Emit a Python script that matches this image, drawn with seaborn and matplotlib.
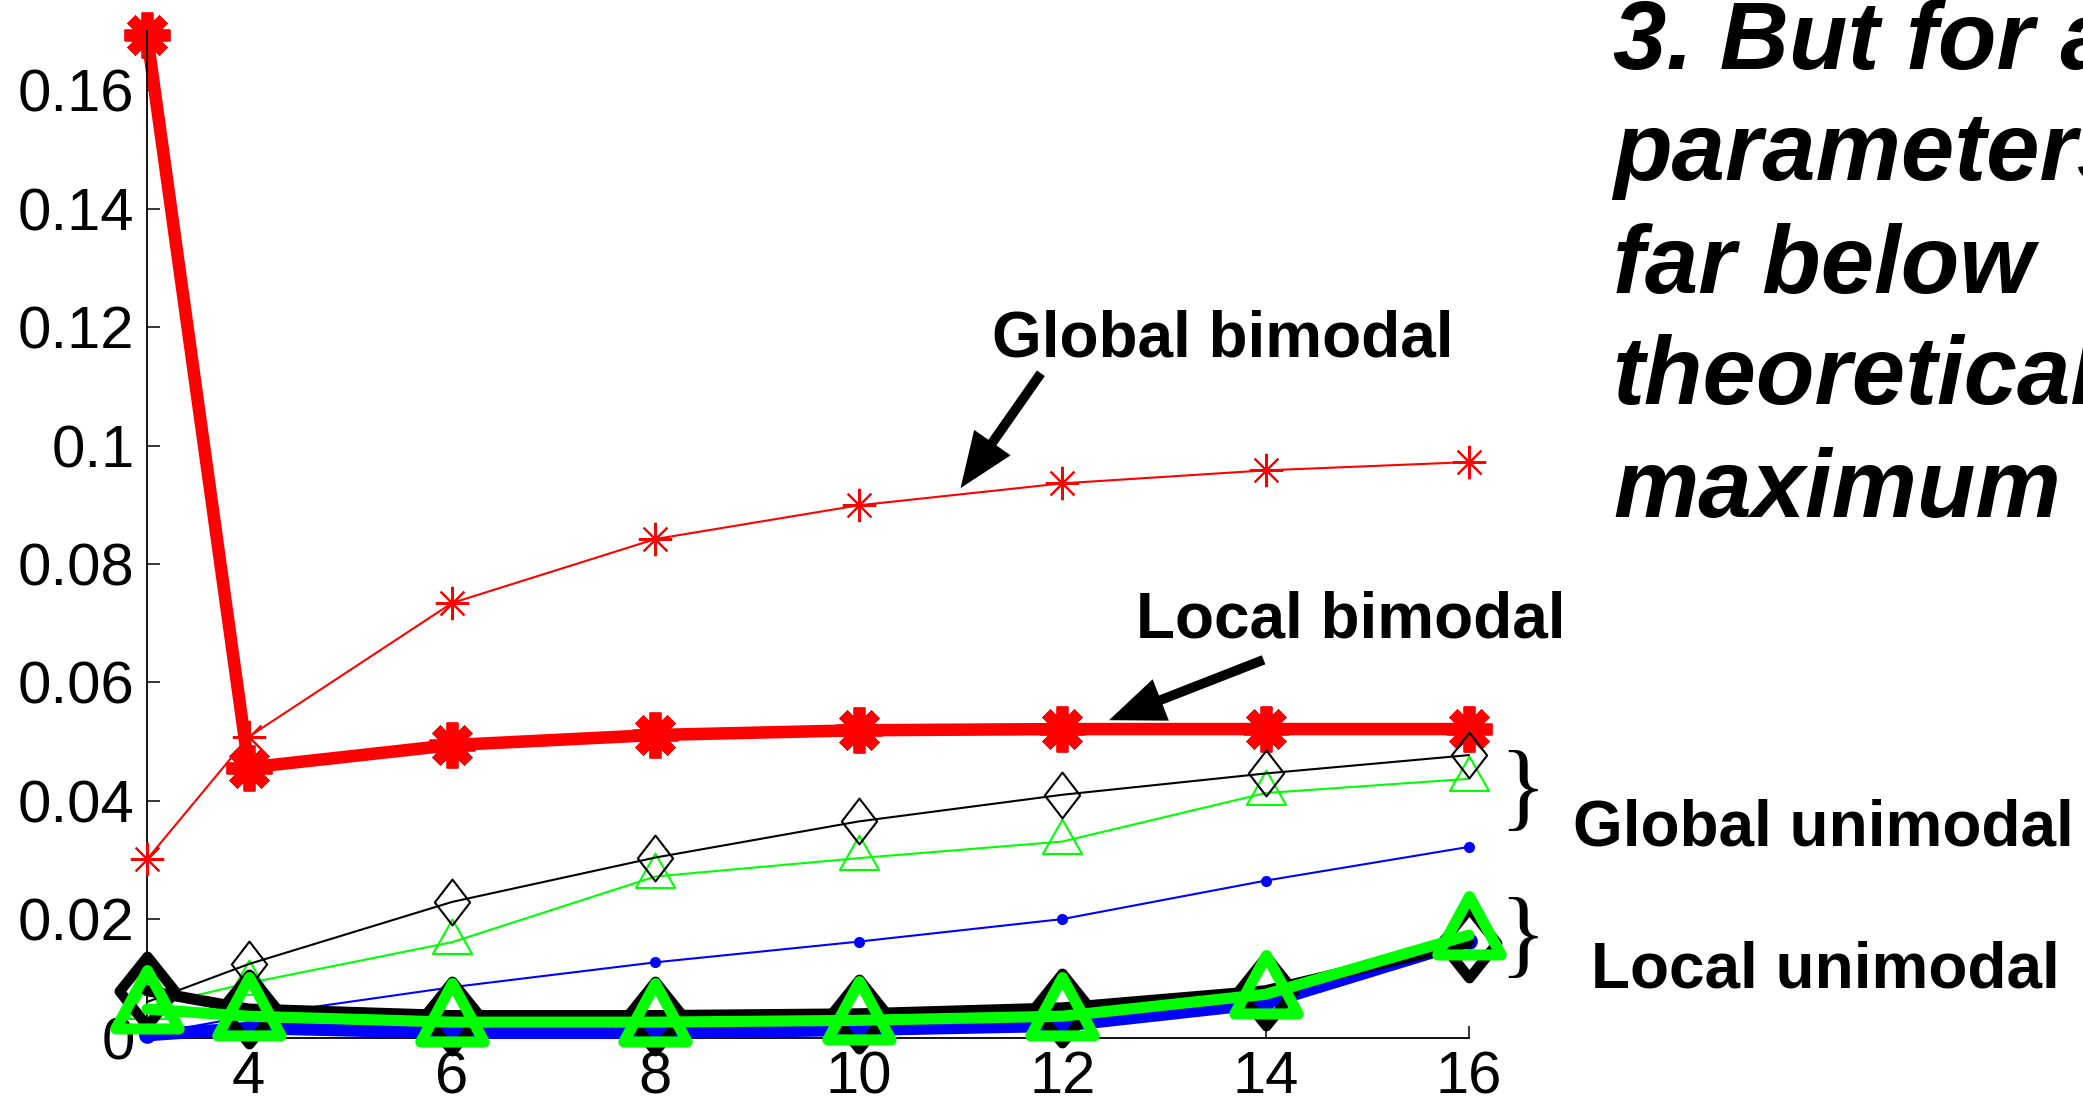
import matplotlib
matplotlib.use("Agg")
import matplotlib.pyplot as plt
from matplotlib.markers import MarkerStyle
from matplotlib.path import Path
import seaborn as sns

# ---- data -----------------------------------------------------------------
x_values = [3, 4, 6, 8, 10, 12, 14, 16]

global_bimodal = [0.0301, 0.0508, 0.0734, 0.0842, 0.0899, 0.0936, 0.0958, 0.0972]
local_bimodal = [0.1693, 0.0456, 0.0494, 0.0511, 0.0519, 0.0521, 0.0521, 0.0521]

global_unimodal_diamond = [0.0060, 0.0124, 0.0229, 0.0304, 0.0365, 0.0410, 0.0446, 0.0477]
global_unimodal_triangle = [0.0052, 0.0092, 0.0161, 0.0272, 0.0303, 0.0331, 0.0413, 0.0437]
global_unimodal_dot = [0.0005, 0.0036, 0.0085, 0.0127, 0.0162, 0.0200, 0.0265, 0.0322]

local_unimodal_diamond = [0.0079, 0.0048, 0.0037, 0.0037, 0.0040, 0.0050, 0.0079, 0.0160]
local_unimodal_triangle = [0.0048, 0.0036, 0.0026, 0.0026, 0.0029, 0.0036, 0.0073, 0.0173]
local_unimodal_dot = [0.0004, 0.0016, 0.0008, 0.0008, 0.0013, 0.0020, 0.0058, 0.0163]

x_ticks = [4, 6, 8, 10, 12, 14, 16]
y_ticks = [0, 0.02, 0.04, 0.06, 0.08, 0.10, 0.12, 0.14, 0.16]
y_tick_labels = ["0", "0.02", "0.04", "0.06", "0.08", "0.1", "0.12", "0.14", "0.16"]

headline = ["3. But for all", "parameters", "far below", "theoretical", "maximum"]

# ---- style ----------------------------------------------------------------
sns.set_style("ticks")
plt.rcParams["font.family"] = ["Liberation Sans", "DejaVu Sans"]

W, H = 2083, 1109
fig = plt.figure(figsize=(W / 100, H / 100), dpi=100)
ax = fig.add_axes([147 / W, 1 - 1037.5 / H, 1322 / W, (1037.5 - 31.1) / H])


def fpos(px, py):
    """Pixel position (from top-left) -> figure fraction."""
    return px / W, 1 - py / H


def diamond(ratio):
    return MarkerStyle(Path([(0, 1), (ratio, 0), (0, -1), (-ratio, 0), (0, 1)], closed=True),
                       joinstyle="miter")


def triangle(w, h):
    # triangle centred on its centroid
    return MarkerStyle(Path([(0, 2 * h / 3), (w / 2, -h / 3), (-w / 2, -h / 3), (0, 2 * h / 3)],
                            closed=True), joinstyle="miter")


asterisk = MarkerStyle((8, 2, 0))

RED, BLACK, GREEN, BLUE = "#ff0000", "#000000", "#00ff00", "#0000ff"


def draw(values, color, lw, marker, ms, mew, z, filled=False):
    sns.lineplot(x=x_values, y=values, ax=ax, color=color, linewidth=lw,
                 marker=marker, markersize=ms, markeredgewidth=mew,
                 markeredgecolor=color,
                 markerfacecolor=color if filled else "none",
                 clip_on=False, zorder=z, legend=False)
    line = ax.lines[-1]
    line.set_markersize(ms)
    line.set_markeredgewidth(mew)


# local bimodal (thick red)
draw(local_bimodal, RED, 9, asterisk, 33, 8.5, 2)

# global series (thin lines)
draw(global_bimodal, RED, 1.5, asterisk, 24, 1.5, 3)
draw(global_unimodal_dot, BLUE, 1.5, "o", 8, 0, 3, filled=True)
draw(global_unimodal_triangle, GREEN, 1.5, triangle(33, 29), 33, 1.5, 3)
draw(global_unimodal_diamond, BLACK, 1.5, diamond(0.77), 33, 1.5, 3)

# local unimodal (thick lines)
draw(local_unimodal_dot, BLUE, 9, "o", 12, 0, 4, filled=True)
draw(local_unimodal_diamond, BLACK, 8, diamond(0.8), 50, 7.5, 5)
draw(local_unimodal_triangle, GREEN, 8, triangle(50, 46), 56, 8, 6)

# ---- axes -----------------------------------------------------------------
ax.set_xlim(3, 16)
ax.set_ylim(0, 0.17)
ax.set_xticks(x_ticks)
ax.set_xticklabels([str(t) for t in x_ticks])
ax.set_yticks(y_ticks)
ax.set_yticklabels(y_tick_labels)
ax.tick_params(direction="in", length=9, width=1.1, labelsize=43, pad=9, colors="black")
sns.despine(ax=ax)
for side in ("left", "bottom"):
    ax.spines[side].set_linewidth(1.3)
    ax.spines[side].set_color("black")
ax.set_xlabel("")
ax.set_ylabel("")
ax.patch.set_alpha(0)

# ---- annotations ----------------------------------------------------------
label_kw = dict(fontsize=46, fontweight="bold", color="black", ha="left", va="baseline")
fig.text(*fpos(992, 357), "Global bimodal", **label_kw)
fig.text(*fpos(1136, 637.6), "Local bimodal", **label_kw)
fig.text(*fpos(1573, 845), "Global unimodal", **label_kw)
fig.text(*fpos(1591, 988), "Local unimodal", **label_kw)

brace_kw = dict(fontsize=70, family=["Liberation Serif", "DejaVu Serif"], color="black",
                ha="center", va="baseline")
fig.text(*fpos(1523, 818), "}", **brace_kw)
fig.text(*fpos(1523, 965), "}", **brace_kw)

arrow_style = "simple,head_length=40,head_width=32,tail_width=7"
for head, tail in [((11.0, 0.0928), (11.79, 0.1122)), ((12.46, 0.0536), (13.98, 0.0638))]:
    ax.annotate("", xy=head, xytext=tail, xycoords="data", textcoords="data",
                arrowprops=dict(arrowstyle=arrow_style, mutation_scale=1,
                                facecolor="black", edgecolor="none",
                                shrinkA=0, shrinkB=0),
                annotation_clip=False, zorder=8)

for line, base in zip(headline, [69, 180, 293, 404, 517]):
    fig.text(*fpos(1613, base), line, fontsize=69, fontweight="bold", fontstyle="italic",
             color="black", ha="left", va="baseline")

fig.savefig("out.png", dpi=100)
